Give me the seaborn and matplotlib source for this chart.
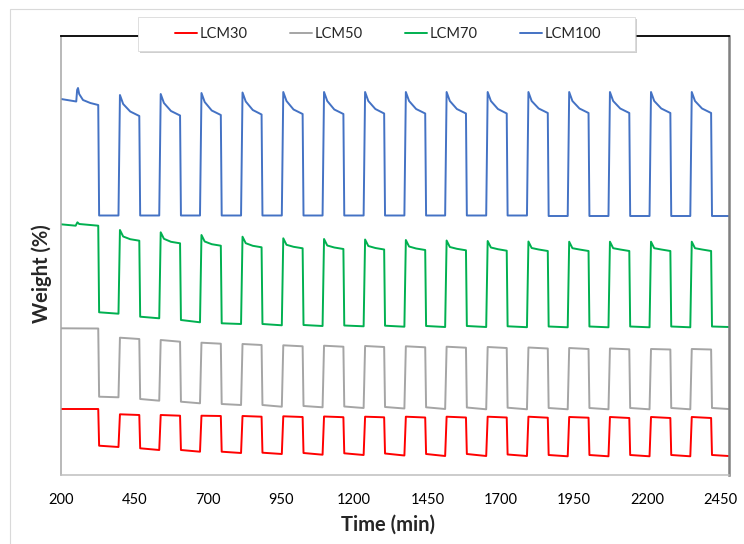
import numpy as np
import pandas as pd
import matplotlib
matplotlib.use("Agg")
import matplotlib.pyplot as plt
import seaborn as sns
from matplotlib.patches import Rectangle

# Cycle timing (min)
drop_t = [327, 467, 606, 745, 884, 1024, 1163, 1302, 1442, 1581, 1720, 1860, 1999, 2138, 2278, 2417]
rise_t = [396, 535, 674, 814, 953, 1092, 1232, 1371, 1510, 1650, 1789, 1928, 2067, 2207, 2346]
t_end = 2476

# Weight values (arbitrary units, y axis has no labels)
# LCM100
blue_init_t = [200, 252, 255, 258, 262, 275, 300, 327]
blue_init_y = [376, 373.5, 385, 387, 381, 375, 372, 370]
blue_peak = [380, 381, 382, 382.5, 383, 383, 383, 383, 383, 383, 383, 383, 383, 383, 383]
blue_knee = [371, 372, 373, 373.5, 374, 374, 374, 374, 374, 374, 374, 374, 374, 374, 374]
blue_mid = [363.5, 364, 364.5, 365, 365.5, 365.5, 366, 366, 366, 366, 366.5, 366.5, 366.5, 366.5, 366.5]
blue_end = [359, 359.5, 360, 360.5, 361, 361, 361.5, 361.5, 361.5, 361.5, 362, 362, 362, 362, 362]
blue_lo_start = [259.5, 259.5, 259.5, 259.5, 259.5, 259.5, 259.5, 259.5, 259.5, 259.5, 259.5, 259, 259, 259, 259, 259]
blue_lo_end = [259.5, 259.5, 259.5, 259.5, 259.5, 259.5, 259.5, 259.5, 259.5, 259.5, 259.5, 259, 259, 259, 259, 259]

# LCM70
green_init_t = [200, 250, 256, 262, 300, 327]
green_init_y = [250.7, 249.3, 252.7, 251, 250, 249.3]
green_peak = [245, 242.7, 240, 238.3, 236.7, 236, 235.5, 235, 234.5, 234, 233.5, 233.3, 233.3, 233.3, 233.3]
green_knee = [238.5, 236.2, 233.5, 231.8, 230.2, 229.5, 229, 228.5, 228, 227.5, 227, 226.8, 226.8, 226.8, 226.8]
green_mid = [235.8, 233.2, 230.8, 229.2, 228.2, 227.5, 227, 226.5, 226.2, 225.8, 225.5, 225.5, 225.5, 225.5, 225.5]
green_end = [234.3, 231.7, 229.3, 227.7, 226.7, 226, 225.5, 225, 224.7, 224.3, 224, 224, 224, 224, 224]
green_lo_start = [162.7, 158.3, 155, 151.7, 151, 150, 149.5, 149.3, 149, 149, 148.7, 148.5, 148.5, 148.5, 148.5, 148.5]
green_lo_end = [161.3, 156.7, 152.7, 151, 149.7, 149, 148.7, 148.3, 148, 148, 147.8, 147.7, 147.7, 147.7, 147.7, 148]

# LCM50
grey_init_t = [200, 327]
grey_init_y = [146.7, 146.5]
grey_peak = [137.3, 135, 132.3, 131, 129.7, 129.3, 129, 128.7, 128.3, 128, 127.5, 127, 126.5, 126, 126]
grey_end = [136, 133.3, 131.3, 130, 128.7, 128.3, 128, 127.7, 127.3, 127, 126.5, 126, 125.7, 125.5, 125.5]
grey_lo_start = [78.3, 76, 73.3, 71, 70, 69, 68.5, 68, 67.7, 67.5, 67.3, 67, 67, 67, 67, 67]
grey_lo_end = [77.7, 74.3, 71.7, 70, 68.3, 67.7, 67, 66.5, 66, 65.7, 65.7, 65.7, 65.7, 65.7, 65.7, 66]

# LCM30
red_init_t = [200, 327]
red_init_y = [66, 66]
red_peak = [60.7, 60, 59.3, 59, 58.7, 58.5, 58.3, 58.3, 58.3, 58.3, 58.3, 58, 58, 58, 58]
red_end = [60, 59.3, 59, 58.3, 58, 57.8, 57.7, 57.5, 57.5, 57.5, 57.3, 57.3, 57, 57, 57]
red_lo_start = [29.3, 26.7, 25, 23.3, 22.3, 22, 21.7, 21.5, 21, 21, 20.5, 20, 20, 20, 20, 20]
red_lo_end = [28, 25, 23.3, 22, 21, 20.3, 20, 19.5, 19, 19, 19, 18.7, 18.7, 18.7, 18.7, 19]

series = ["LCM30", "LCM50", "LCM70", "LCM100"]
colors = ["#FF0000", "#A5A5A5", "#00B050", "#4472C4"]
xticks = [200, 450, 700, 950, 1200, 1450, 1700, 1950, 2200, 2450]


def build(init_t, init_y, peak, end, lo_start, lo_end, knee=None, mid=None):
    t = list(init_t)
    y = list(init_y)
    for i, d in enumerate(drop_t):
        if i > 0:
            r = rise_t[i - 1]
            t += [r, r + 5]
            y += [lo_end[i - 1], peak[i - 1]]
            if knee is not None:
                t.append(r + 16)
                y.append(knee[i - 1])
            if mid is not None:
                t.append(r + 40)
                y.append(mid[i - 1])
            t.append(d)
            y.append(end[i - 1])
        t.append(d + 3)
        y.append(lo_start[i])
    t.append(t_end)
    y.append(lo_end[-1])
    return t, y


curves = {
    "LCM30": build(red_init_t, red_init_y, red_peak, red_end, red_lo_start, red_lo_end),
    "LCM50": build(grey_init_t, grey_init_y, grey_peak, grey_end, grey_lo_start, grey_lo_end),
    "LCM70": build(green_init_t, green_init_y, green_peak, green_end, green_lo_start, green_lo_end,
                   green_knee, green_mid),
    "LCM100": build(blue_init_t, blue_init_y, blue_peak, blue_end, blue_lo_start, blue_lo_end,
                    blue_knee, blue_mid),
}
frames = []
for name in series:
    t, y = curves[name]
    frames.append(pd.DataFrame({"Time": t, "Weight": y, "Series": name}))
df = pd.concat(frames, ignore_index=True)

sns.set_theme(style="white")
plt.rcParams["font.family"] = ["Lato", "DejaVu Sans"]

fig = plt.figure(figsize=(7.44, 5.44), dpi=100)
ax = fig.add_axes([61 / 744, 1 - 475 / 544, 668 / 744, 439 / 544])

sns.lineplot(data=df, x="Time", y="Weight", hue="Series", hue_order=series,
             palette=colors, estimator=None, sort=False, linewidth=1.4, ax=ax)

ax.set_xlim(200, 2478)
ax.set_ylim(0, 439)
ax.set_xticks(xticks)
ax.set_xticklabels([str(v) for v in xticks])
ax.set_yticks([])
ax.tick_params(axis="x", length=0, pad=13, labelsize=10.5, colors="black")

ax.set_xlabel("Time (min)", fontsize=14.5, fontweight="bold")
ax.xaxis.set_label_coords((388 - 61) / 668, (475 - 525) / 439)
ax.xaxis.label.set_va("center")
ax.set_ylabel("Weight (%)", fontsize=14.5, fontweight="bold")
ax.yaxis.set_label_coords((42 - 61) / 668, (475 - 274) / 439)
ax.yaxis.label.set_va("center")

ax.spines["top"].set_color("black")
ax.spines["top"].set_linewidth(1.3)
ax.spines["right"].set_color("#808080")
ax.spines["right"].set_linewidth(1.8)
ax.spines["left"].set_color("#a6a6a6")
ax.spines["left"].set_linewidth(1.1)
ax.spines["bottom"].set_color("#bfbfbf")
ax.spines["bottom"].set_linewidth(1.1)

# legend with Excel-like box
handles, labels = ax.get_legend_handles_labels()
ax.get_legend().remove()
W, H = 744, 544
fig.patches.append(Rectangle((140 / W, 1 - 53 / H), 497 / W, 34 / H, transform=fig.transFigure,
                             facecolor="#b0b0b0", edgecolor="none", alpha=0.6, zorder=3))
fig.patches.append(Rectangle((138 / W, 1 - 51 / H), 497 / W, 34 / H, transform=fig.transFigure,
                             facecolor="white", edgecolor="#d9d9d9", linewidth=0.6, zorder=4))
fig.legend(handles, labels, loc="center", bbox_to_anchor=(388 / W, 1 - 34 / H), ncol=4,
           frameon=False, fontsize=10.5, handlelength=1.5, handletextpad=0.2,
           columnspacing=2.9)

# outer chart border
fig.patches.append(Rectangle((10 / W, -0.1), 1.0, (H - 9) / H + 0.1, transform=fig.transFigure,
                             facecolor="none", edgecolor="#d9d9d9", linewidth=0.8, zorder=0))

fig.savefig("out.png", dpi=100)
